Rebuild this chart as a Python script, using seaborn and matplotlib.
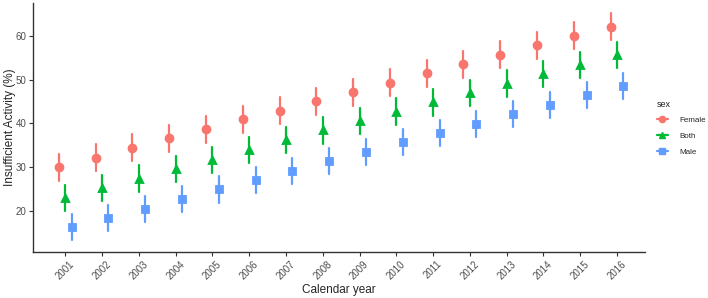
import matplotlib
matplotlib.use("Agg")
import matplotlib.pyplot as plt
from matplotlib.lines import Line2D
import seaborn as sns
import pandas as pd

years = [str(y) for y in range(2001, 2017)]
female = [30.0, 32.2, 34.4, 36.6, 38.7, 40.9, 42.9, 45.0, 47.1, 49.3, 51.4, 53.5, 55.7, 57.8, 60.0, 62.1]
both = [23.0, 25.2, 27.4, 29.5, 31.7, 33.9, 36.2, 38.4, 40.5, 42.7, 44.8, 46.9, 49.1, 51.2, 53.4, 55.6]
male = [16.3, 18.4, 20.5, 22.8, 24.9, 27.1, 29.2, 31.4, 33.5, 35.7, 37.8, 39.9, 42.1, 44.2, 46.4, 48.5]
female_err = [3.1, 3.1, 3.1, 3.1, 3.1, 3.1, 3.1, 3.1, 3.1, 3.1, 3.1, 3.1, 3.1, 3.1, 3.1, 3.1]
both_err = [3.0, 3.0, 3.0, 3.0, 3.0, 3.0, 3.0, 3.0, 3.0, 3.0, 3.0, 3.0, 3.0, 3.0, 3.0, 3.0]
male_err = [3.0, 3.0, 3.0, 3.0, 3.0, 3.0, 3.0, 3.0, 3.0, 3.0, 3.0, 3.0, 3.0, 3.0, 3.0, 3.0]
sexes = ["Female", "Both", "Male"]
colors = ["#F8766D", "#00BA38", "#619CFF"]
markers = ["o", "^", "s"]

# three rows per point: lower, estimate, upper -> median + full range interval
rows = []
for sex, vals, errs in zip(sexes, [female, both, male], [female_err, both_err, male_err]):
    for yr, v, e in zip(years, vals, errs):
        for val in (v - e, v, v + e):
            rows.append({"year": yr, "sex": sex, "pct": val})
df = pd.DataFrame(rows)

sns.set_style("white")
plt.rcParams["font.family"] = ["Liberation Sans", "DejaVu Sans"]

fig = plt.figure(figsize=(7.08, 2.98), dpi=100)
ax = fig.add_axes([0.047, 0.154, 0.864, 0.836])
sns.pointplot(data=df, x="year", y="pct", hue="sex", hue_order=sexes,
              palette=colors, estimator="median", errorbar=("pi", 100),
              markers=markers, linestyle="none", dodge=0.35,
              markersize=5, err_kws={"linewidth": 1.6}, ax=ax)

ax.set_xlim(-0.87, 15.76)
ax.set_ylim(10.6, 67.5)
ax.set_yticks([20, 30, 40, 50, 60])
sns.despine(ax=ax)
for s in ["left", "bottom"]:
    ax.spines[s].set_color("#333333")
    ax.spines[s].set_linewidth(1.0)
ax.tick_params(axis="both", colors="#333333", labelcolor="#4D4D4D",
               labelsize=7, length=3, width=0.8, left=True, bottom=True, pad=2)
plt.setp(ax.get_xticklabels(), rotation=45)
ax.set_xlabel("Calendar year", fontsize=8.5, labelpad=2)
ax.set_ylabel("Insufficient Activity (%)", fontsize=8.5, labelpad=-0.5)

handles = [Line2D([], [], color=c, marker=m, markersize=4.5, linewidth=1.6)
           for c, m in zip(colors, markers)]
ax.legend(handles, sexes, title="sex", loc="center left", bbox_to_anchor=(1.008, 0.5),
          frameon=False, fontsize=5.8, title_fontsize=6.5, alignment="left",
          handlelength=1.3, handletextpad=1.4, labelspacing=1.0)

fig.savefig("out.png", dpi=100)
